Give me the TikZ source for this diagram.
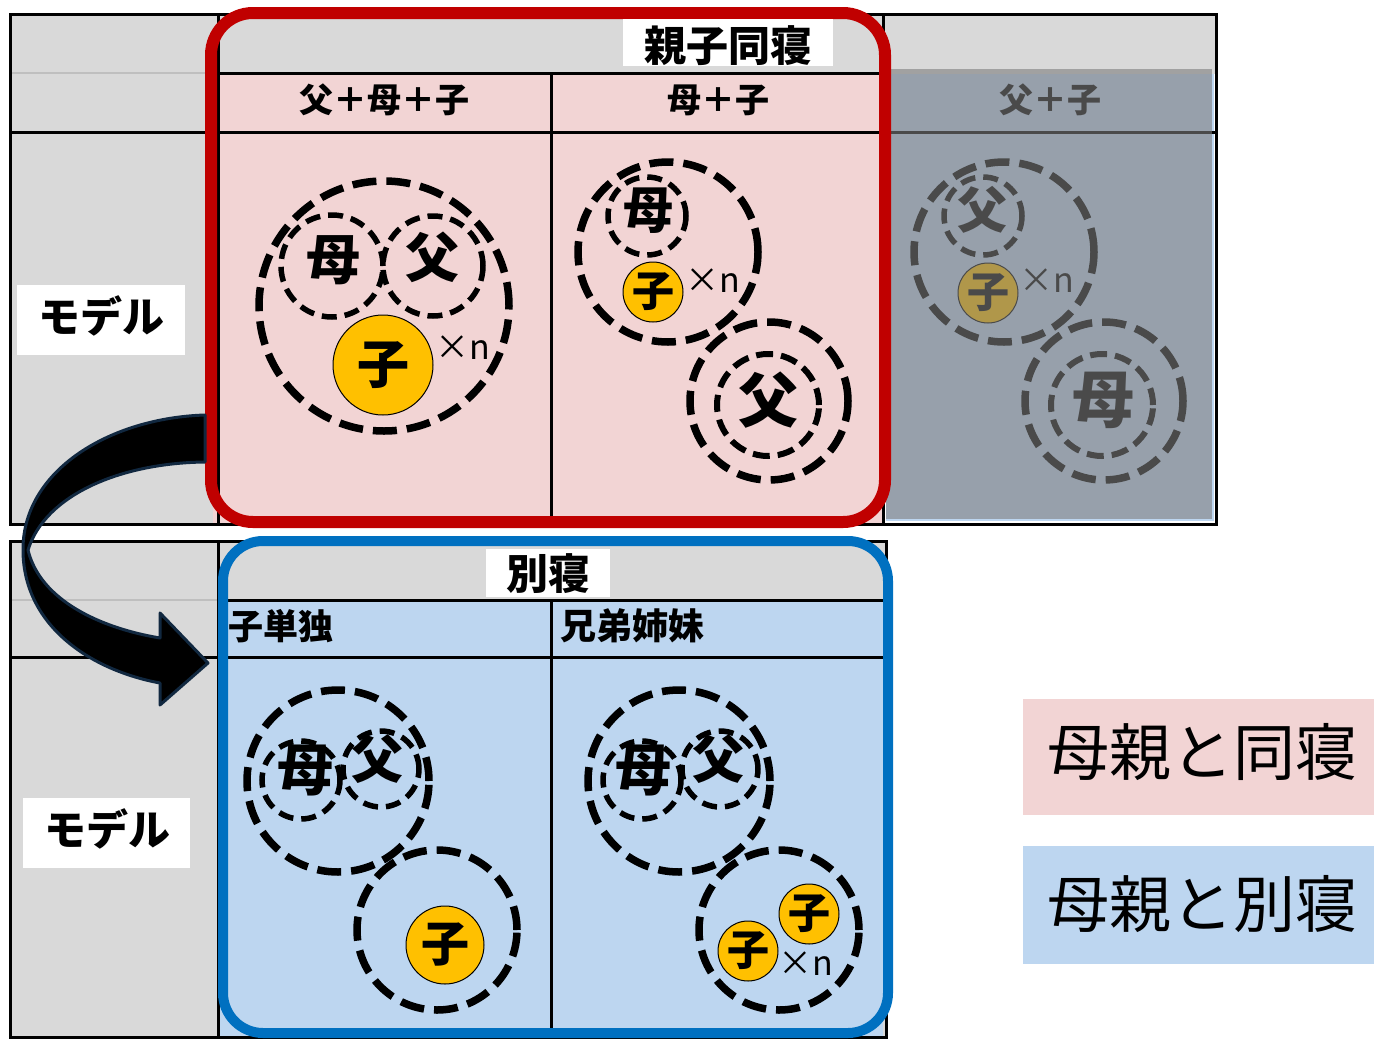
\documentclass[tikz,border=0pt]{standalone}
\usepackage{fontspec}
\newfontfamily\cjk{Noto Sans CJK JP}
\definecolor{pinkbg}{HTML}{F2D4D4}
\definecolor{bluebg}{HTML}{BDD6F0}
\definecolor{graybg}{HTML}{D9D9D9}
\definecolor{lightline}{HTML}{BFBFBF}
\definecolor{redframe}{HTML}{C00000}
\definecolor{blueframe}{HTML}{0070C0}
\definecolor{kidyellow}{HTML}{FFC000}
\definecolor{dimbg}{HTML}{97A0AB}
\definecolor{dimink}{HTML}{4A4A4A}
\definecolor{dimyellow}{HTML}{B0974A}
\definecolor{dimgray}{HTML}{A1A1A1}
\definecolor{arrowline}{HTML}{112840}
\tikzset{
  bf/.style={font=\cjk\bfseries\fontsize{#1}{#1}\selectfont, inner sep=0pt},
  rg/.style={font=\cjk\fontsize{#1}{#1}\selectfont, inner sep=0pt},
  grid/.style={line width=3pt},
  bigc/.style={circle, draw, line width=7.5pt, dash pattern=on 24pt off 10pt, minimum size=#1, inner sep=0pt},
  midc/.style={circle, draw, line width=6pt, dash pattern=on 17pt off 8pt, minimum size=#1, inner sep=0pt},
  smallc/.style={circle, draw, line width=5.5pt, dash pattern=on 15pt off 8pt, minimum size=#1, inner sep=0pt},
  kid/.style={circle, draw, line width=1pt, fill=kidyellow, minimum size=#1, inner sep=0pt},
  whitebox/.style={fill=white, inner sep=0pt},
  dim/.style={draw=dimink, text=dimink},
}
\begin{document}
\begin{tikzpicture}[x=1pt,y=-1pt]
\useasboundingbox (0,0) rectangle (1374,1039);
% ---------- top table ----------
\fill[graybg] (10,14) rectangle (218,524);
\fill[graybg] (218,14) rectangle (1215,74);
\fill[pinkbg] (213,73) rectangle (883,523);
\fill[bluebg] (886,74) rectangle (1214,521);
\fill[dimgray] (886,69) rectangle (1212,74);
\fill[dimbg] (886,74) rectangle (1212,519);
\draw[lightline, line width=1.5pt] (10,73) -- (218,73);
\draw[grid] (218,73) -- (883,73);
\draw[grid] (10,132) -- (886,132);
\draw[grid, dimink] (886,132) -- (1212,132);
\draw[grid] (1212,132) -- (1216,132);
\draw[grid] (218,14) -- (218,524);
\draw[grid] (551,73) -- (551,522);
\draw[grid] (883,14) -- (883,524);
\draw[grid] (10,14) rectangle (1216,524);
% ---------- bottom table ----------
\fill[graybg] (10,541) rectangle (886,1037);
\fill[bluebg] (218,600) rectangle (883,1037);
\draw[lightline, line width=1.5pt] (10,600) -- (218,600);
\draw[grid] (218,600) -- (883,600);
\draw[grid] (10,657) -- (883,657);
\draw[grid] (218,541) -- (218,1037);
\draw[grid] (551,600) -- (551,1037);
\draw[grid] (10,541) rectangle (886,1037);
% ---------- headers ----------
\node[bf=34] (h1) at (384,100) {父＋母＋子};
\node[bf=34] (h2) at (718,100) {母＋子};
\node[bf=34, text=dimink] (h3) at (1050,100) {父＋子};
\node[bf=35, anchor=west] (h4) at (228,626) {子単独};
\node[bf=36, anchor=west] (h5) at (560,626) {兄弟姉妹};
% ---------- top-left cell ----------
\node[bigc=250] (a0) at (384,306) {};
\node[smallc=102] (a1) at (332,266) {};
\node[smallc=100] (a2) at (433,266) {};
\node[bf=54] (a1t) at (333,260) {母};
\node[bf=54] (a2t) at (432,257) {父};
\node[kid=100, bf=52] (a3) at (383,365) {子};
\node[rg=34] (a4) at (463,348) {×n};
% ---------- top-middle cell ----------
\node[bigc=180] (b0) at (668,252) {};
\node[smallc=78] (b1) at (647,216) {};
\node[bf=50] (b1t) at (648,211) {母};
\node[kid=60, bf=42] (b2) at (653,292) {子};
\node[rg=34] (b3) at (713,281) {×n};
\node[bigc=158] (b4) at (769,401) {};
\node[midc=102] (b5) at (768,405) {};
\node[bf=60] (b5t) at (768,400) {父};
% ---------- top-right cell (dimmed) ----------
\node[bigc=180, dim] (c0) at (1004,252) {};
\node[smallc=78, dim] (c1) at (983,216) {};
\node[bf=50, text=dimink] (c1t) at (982,210) {父};
\node[kid=60, bf=42, dim, fill=dimyellow] (c2) at (988,293) {子};
\node[rg=34, text=dimink] (c3) at (1047,281) {×n};
\node[bigc=158, dim] (c4) at (1104,401) {};
\node[midc=102, dim] (c5) at (1102,405) {};
\node[bf=62, text=dimink] (c5t) at (1103,400) {母};
% ---------- bottom-left cell ----------
\node[bigc=182] (d0) at (338,781) {};
\node[smallc=78] (d1) at (301,780) {};
\node[smallc=76] (d2) at (381,769) {};
\node[bf=56] (d1t) at (305,771) {母};
\node[bf=52] (d2t) at (377,759) {父};
\node[bigc=160] (d3) at (437,930) {};
\node[kid=78, bf=48] (d4) at (445,945) {子};
% ---------- bottom-right cell ----------
\node[bigc=182] (e0) at (679,781) {};
\node[smallc=78] (e1) at (642,780) {};
\node[smallc=76] (e2) at (720,769) {};
\node[bf=56] (e1t) at (643,771) {母};
\node[bf=52] (e2t) at (718,759) {父};
\node[bigc=160] (e3) at (779,930) {};
\node[kid=60, bf=42] (e4) at (809,914) {子};
\node[kid=60, bf=42] (e5) at (748,951) {子};
\node[rg=34] (e6) at (806,964) {×n};
% ---------- frames ----------
\draw[redframe, line width=12pt, rounded corners=42pt] (211,13) rectangle (885,522);
\draw[blueframe, line width=10pt, rounded corners=40pt] (223,541) rectangle (888,1033);
% ---------- title boxes ----------
\node[whitebox, minimum width=210pt, minimum height=47pt] (t1box) at (728,42.5) {};
\node[bf=42] (t1) at (728,46) {親子同寝};
\node[whitebox, minimum width=124pt, minimum height=48pt] (t2box) at (548,573) {};
\node[bf=42] (t2) at (548,574) {別寝};
\node[whitebox, minimum width=168pt, minimum height=70pt] (m1box) at (101,320) {};
\node[bf=42] (m1) at (101,316) {モデル};
\node[whitebox, minimum width=167pt, minimum height=70pt] (m2box) at (106.5,833) {};
\node[bf=42] (m2) at (107,829) {モデル};
% ---------- curved arrow ----------
\draw[arrowline, line width=3pt, fill=black, line join=round]
  (205,415) .. controls (110,418) and (24,470) .. (23,548)
  .. controls (22,625) and (90,670) .. (160,683)
  -- (160,705) -- (208,663) -- (160,613) -- (160,638)
  .. controls (100,628) and (40,600) .. (28,550)
  .. controls (45,495) and (120,463) .. (205,462) -- cycle;
% ---------- legend ----------
\node[fill=pinkbg, minimum width=351pt, minimum height=116pt, inner sep=0pt] (l1box) at (1198.5,757) {};
\node[rg=62] (l1) at (1202,752) {母親と同寝};
\node[fill=bluebg, minimum width=351pt, minimum height=118pt, inner sep=0pt] (l2box) at (1198.5,905) {};
\node[rg=62] (l2) at (1202,904) {母親と別寝};
\end{tikzpicture}
\end{document}
